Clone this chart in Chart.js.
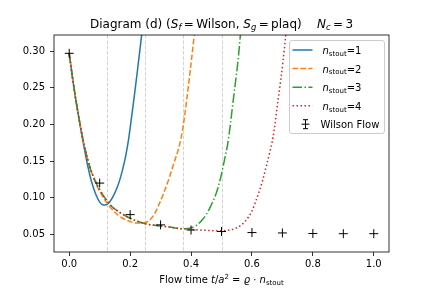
<!DOCTYPE html>
<html>
<head>
<meta charset="utf-8">
<script src="https://cdn.jsdelivr.net/npm/chart.js@4/dist/chart.umd.min.js"></script>
<style>
html,body{margin:0;padding:0;background:#fff;}
#wrap{width:432px;height:288px;}
</style>
</head>
<body>
<div id="wrap"><canvas id="c" width="432" height="288"></canvas></div>
<script>
// ---- data ----
const xTicks = [0.0, 0.2, 0.4, 0.6, 0.8, 1.0];
const yTicks = [0.05, 0.10, 0.15, 0.20, 0.25, 0.30];
const guideX = [0.125, 0.25, 0.375, 0.5];

const wilsonT = [0.0, 0.1, 0.2, 0.3, 0.4, 0.5, 0.6, 0.7, 0.8, 0.9, 1.0];
const wilsonE = [0.297, 0.120, 0.077, 0.063, 0.056, 0.054, 0.0525, 0.052, 0.0512, 0.051, 0.051];

const stout1X = [0, 0.01, 0.02, 0.03, 0.04, 0.05, 0.06, 0.07, 0.08, 0.09, 0.10, 0.11, 0.118, 0.125, 0.135, 0.145, 0.155, 0.165, 0.175, 0.185, 0.195, 0.205, 0.215, 0.225, 0.235, 0.245];
const stout1Y = [0.297, 0.266, 0.238, 0.213, 0.189, 0.166, 0.145, 0.127, 0.113, 0.102, 0.094, 0.0905, 0.0900, 0.0912, 0.0955, 0.1025, 0.1115, 0.123, 0.138, 0.156, 0.180, 0.211, 0.243, 0.277, 0.312, 0.348];

const stout2X = [0, 0.01, 0.02, 0.03, 0.04, 0.05, 0.06, 0.07, 0.08, 0.09, 0.10, 0.12, 0.14, 0.16, 0.18, 0.20, 0.22, 0.24, 0.26, 0.28, 0.297, 0.31, 0.33, 0.345, 0.357, 0.37, 0.385, 0.40, 0.41, 0.42];
const stout2Y = [0.297, 0.266, 0.238, 0.213, 0.190, 0.170, 0.153, 0.139, 0.127, 0.117, 0.109, 0.095, 0.0845, 0.0765, 0.071, 0.0675, 0.0655, 0.0655, 0.068, 0.078, 0.093, 0.106, 0.129, 0.149, 0.164, 0.187, 0.231, 0.283, 0.320, 0.360];

const stout3X = [0, 0.01, 0.02, 0.03, 0.04, 0.05, 0.06, 0.07, 0.08, 0.09, 0.10, 0.12, 0.14, 0.16, 0.18, 0.20, 0.22, 0.25, 0.28, 0.30, 0.33, 0.37, 0.39, 0.407, 0.42, 0.435, 0.45, 0.465, 0.483, 0.497, 0.51, 0.521, 0.53, 0.538, 0.546, 0.554, 0.562, 0.57];
const stout3Y = [0.297, 0.266, 0.238, 0.213, 0.190, 0.170, 0.153, 0.139, 0.128, 0.119, 0.111, 0.098, 0.088, 0.0815, 0.0765, 0.072, 0.0685, 0.0645, 0.0625, 0.0615, 0.0600, 0.0578, 0.058, 0.060, 0.063, 0.069, 0.077, 0.089, 0.1065, 0.127, 0.152, 0.175, 0.203, 0.231, 0.258, 0.286, 0.322, 0.360];

const stout4X = [0, 0.01, 0.02, 0.03, 0.04, 0.05, 0.06, 0.07, 0.08, 0.09, 0.10, 0.12, 0.14, 0.16, 0.18, 0.20, 0.22, 0.25, 0.28, 0.30, 0.33, 0.37, 0.40, 0.45, 0.50, 0.53, 0.555, 0.58, 0.60, 0.614, 0.625, 0.636, 0.647, 0.658, 0.669, 0.685, 0.695, 0.702, 0.71, 0.72];
const stout4Y = [0.297, 0.266, 0.238, 0.213, 0.190, 0.170, 0.153, 0.139, 0.128, 0.119, 0.111, 0.098, 0.088, 0.0815, 0.0765, 0.072, 0.0685, 0.0645, 0.0625, 0.0615, 0.0600, 0.0578, 0.0568, 0.0555, 0.0550, 0.0562, 0.060, 0.069, 0.082, 0.097, 0.110, 0.125, 0.143, 0.161, 0.182, 0.231, 0.262, 0.286, 0.318, 0.360];

const seriesNames = ['1', '2', '3', '4'];
// ---------------------------------------

const FONT = "'DejaVu Sans', sans-serif";
const COLORS = ['#1f77b4', '#ff7f0e', '#2ca02c', '#d62728'];
const DASHES = [[], [5.55, 2.4], [9.6, 2.4, 1.5, 2.4], [1.5, 2.475]];

function pts(xs, ys) { return xs.map((x, i) => ({x: x, y: ys[i]})); }

const curveX = [stout1X, stout2X, stout3X, stout4X];
const curveY = [stout1Y, stout2Y, stout3Y, stout4Y];

const datasets = [];
datasets.push({
  label: 'Wilson Flow',
  data: pts(wilsonT, wilsonE),
  showLine: false,
  pointStyle: 'cross',
  pointRadius: 4.5,
  pointHoverRadius: 4.5,
  borderColor: '#000',
  backgroundColor: '#000',
  pointBorderWidth: 1,
  order: 0
});
for (let i = 0; i < 4; i++) {
  datasets.push({
    label: 'n_stout=' + seriesNames[i],
    data: pts(curveX[i], curveY[i]),
    showLine: true,
    borderColor: COLORS[i],
    backgroundColor: COLORS[i],
    borderWidth: 1.5,
    borderDash: DASHES[i],
    borderCapStyle: 'butt',
    pointRadius: 0,
    cubicInterpolationMode: 'monotone',
    order: 4 - i + 1
  });
}

function measureRich(ctx, segs) {
  let w = 0;
  for (const s of segs) {
    ctx.font = (s.it ? 'italic ' : '') + s.size + 'px ' + FONT;
    w += ctx.measureText(s.t).width;
  }
  return w;
}
function drawRich(ctx, segs, x, y, align) {
  const w = measureRich(ctx, segs);
  let cx = align === 'center' ? x - w / 2 : x;
  ctx.textBaseline = 'alphabetic';
  ctx.textAlign = 'left';
  ctx.fillStyle = '#000';
  for (const s of segs) {
    ctx.font = (s.it ? 'italic ' : '') + s.size + 'px ' + FONT;
    ctx.fillText(s.t, cx, y + (s.dy || 0));
    cx += ctx.measureText(s.t).width;
  }
}

const guidePlugin = {
  id: 'guides',
  beforeDraw(chart) {
    const ctx = chart.ctx;
    ctx.save();
    ctx.fillStyle = '#fff';
    ctx.fillRect(0, 0, chart.width, chart.height);
    ctx.restore();
  },
  beforeDatasetsDraw(chart) {
    const ctx = chart.ctx, a = chart.chartArea, xs = chart.scales.x;
    ctx.save();
    ctx.strokeStyle = 'rgba(128,128,128,0.35)';
    ctx.lineWidth = 1;
    ctx.setLineDash([3.7, 1.6]);
    for (const g of guideX) {
      const px = Math.round(xs.getPixelForValue(g)) + 0.5;
      ctx.beginPath();
      ctx.moveTo(px, a.top);
      ctx.lineTo(px, a.bottom);
      ctx.stroke();
    }
    ctx.restore();
  },
  afterDraw(chart) {
    const ctx = chart.ctx, a = chart.chartArea;
    ctx.save();
    // frame
    ctx.strokeStyle = '#000';
    ctx.lineWidth = 0.8;
    ctx.setLineDash([]);
    ctx.strokeRect(a.left, a.top, a.right - a.left, a.bottom - a.top);

    // title
    const T = 12, TS = 8.4;
    drawRich(ctx, [
      {t: 'Diagram (d) (', size: T},
      {t: 'S', size: T, it: true},
      {t: 'f', size: TS, it: true, dy: 2.6},
      {t: '\u2009=\u2009', size: T},
      {t: 'Wilson, ', size: T},
      {t: 'S', size: T, it: true},
      {t: 'g', size: TS, it: true, dy: 2.6},
      {t: '\u2009=\u2009', size: T},
      {t: 'plaq)    ', size: T},
      {t: 'N', size: T, it: true},
      {t: 'c', size: TS, it: true, dy: 2.6},
      {t: '\u2009=\u20093', size: T}
    ], (a.left + a.right) / 2, 27.7, 'center');

    // x label
    drawRich(ctx, [
      {t: 'Flow time ', size: 10},
      {t: 't', size: 10, it: true},
      {t: '/', size: 10},
      {t: 'a', size: 10, it: true},
      {t: '2', size: 7, dy: -4},
      {t: ' = ', size: 10},
      {t: '\u03F1', size: 10, it: true},
      {t: ' \u00B7 ', size: 10},
      {t: 'n', size: 10, it: true},
      {t: 'stout', size: 7, dy: 2}
    ], (a.left + a.right) / 2, 283.3, 'center');

    // legend
    const lx = 289.5, ly = 40.5, lw = 95, lh = 93;
    ctx.beginPath();
    if (ctx.roundRect) ctx.roundRect(lx, ly, lw, lh, 2.5); else ctx.rect(lx, ly, lw, lh);
    ctx.fillStyle = 'rgba(255,255,255,0.8)';
    ctx.fill();
    ctx.strokeStyle = '#cccccc';
    ctx.lineWidth = 1;
    ctx.stroke();
    const rowY = [50, 68.5, 87.2, 105.8, 124.2];
    for (let i = 0; i < 4; i++) {
      ctx.save();
      ctx.strokeStyle = COLORS[i];
      ctx.lineWidth = 1.5;
      ctx.lineCap = 'butt';
      ctx.setLineDash(DASHES[i]);
      ctx.beginPath();
      ctx.moveTo(292.5, rowY[i]);
      ctx.lineTo(312.5, rowY[i]);
      ctx.stroke();
      ctx.restore();
      drawRich(ctx, [
        {t: 'n', size: 10, it: true},
        {t: 'stout', size: 7, dy: 1.8},
        {t: '=' + seriesNames[i], size: 10}
      ], 322.5, rowY[i] + 4, 'left');
    }
    // errorbar icon
    const ex = 305.5, ey = rowY[4];
    ctx.strokeStyle = '#000';
    ctx.lineWidth = 1;
    ctx.setLineDash([]);
    ctx.beginPath();
    ctx.moveTo(ex, ey - 4.5); ctx.lineTo(ex, ey + 4.5);
    ctx.moveTo(ex - 2.5, ey - 4.5); ctx.lineTo(ex + 2.5, ey - 4.5);
    ctx.moveTo(ex - 2.5, ey + 4.5); ctx.lineTo(ex + 2.5, ey + 4.5);
    ctx.moveTo(ex - 4, ey); ctx.lineTo(ex + 4, ey);
    ctx.stroke();
    drawRich(ctx, [{t: 'Wilson Flow', size: 10}], 320.5, ey + 3.6, 'left');
    ctx.restore();
  }
};

new Chart(document.getElementById('c'), {
  type: 'scatter',
  data: {datasets: datasets},
  options: {
    responsive: false,
    animation: false,
    devicePixelRatio: 1,
    layout: {padding: {top: 35, right: 43, left: 0, bottom: 0}},
    plugins: {legend: {display: false}, title: {display: false}, tooltip: {enabled: false}},
    scales: {
      x: {
        type: 'linear',
        min: -0.05, max: 1.05,
        afterBuildTicks(s) { s.ticks = xTicks.map(v => ({value: v})); },
        afterFit(s) { s.height = 36; },
        ticks: {
          callback: v => Number(v).toFixed(1),
          font: {family: FONT, size: 10},
          color: '#000',
          padding: 2,
          maxRotation: 0,
          autoSkip: false
        },
        grid: {display: true, drawOnChartArea: false, drawTicks: true, tickLength: 4, tickWidth: 0.8, tickColor: '#000'},
        border: {display: false}
      },
      y: {
        type: 'linear',
        min: 0.026, max: 0.322,
        afterBuildTicks(s) { s.ticks = yTicks.map(v => ({value: v})); },
        afterFit(s) { s.width = 54; },
        ticks: {
          callback: v => Number(v).toFixed(2),
          font: {family: FONT, size: 10},
          color: '#000',
          padding: 5,
          autoSkip: false
        },
        grid: {display: true, drawOnChartArea: false, drawTicks: true, tickLength: 4, tickWidth: 0.8, tickColor: '#000'},
        border: {display: false}
      }
    }
  },
  plugins: [guidePlugin]
});
</script>
</body>
</html>
